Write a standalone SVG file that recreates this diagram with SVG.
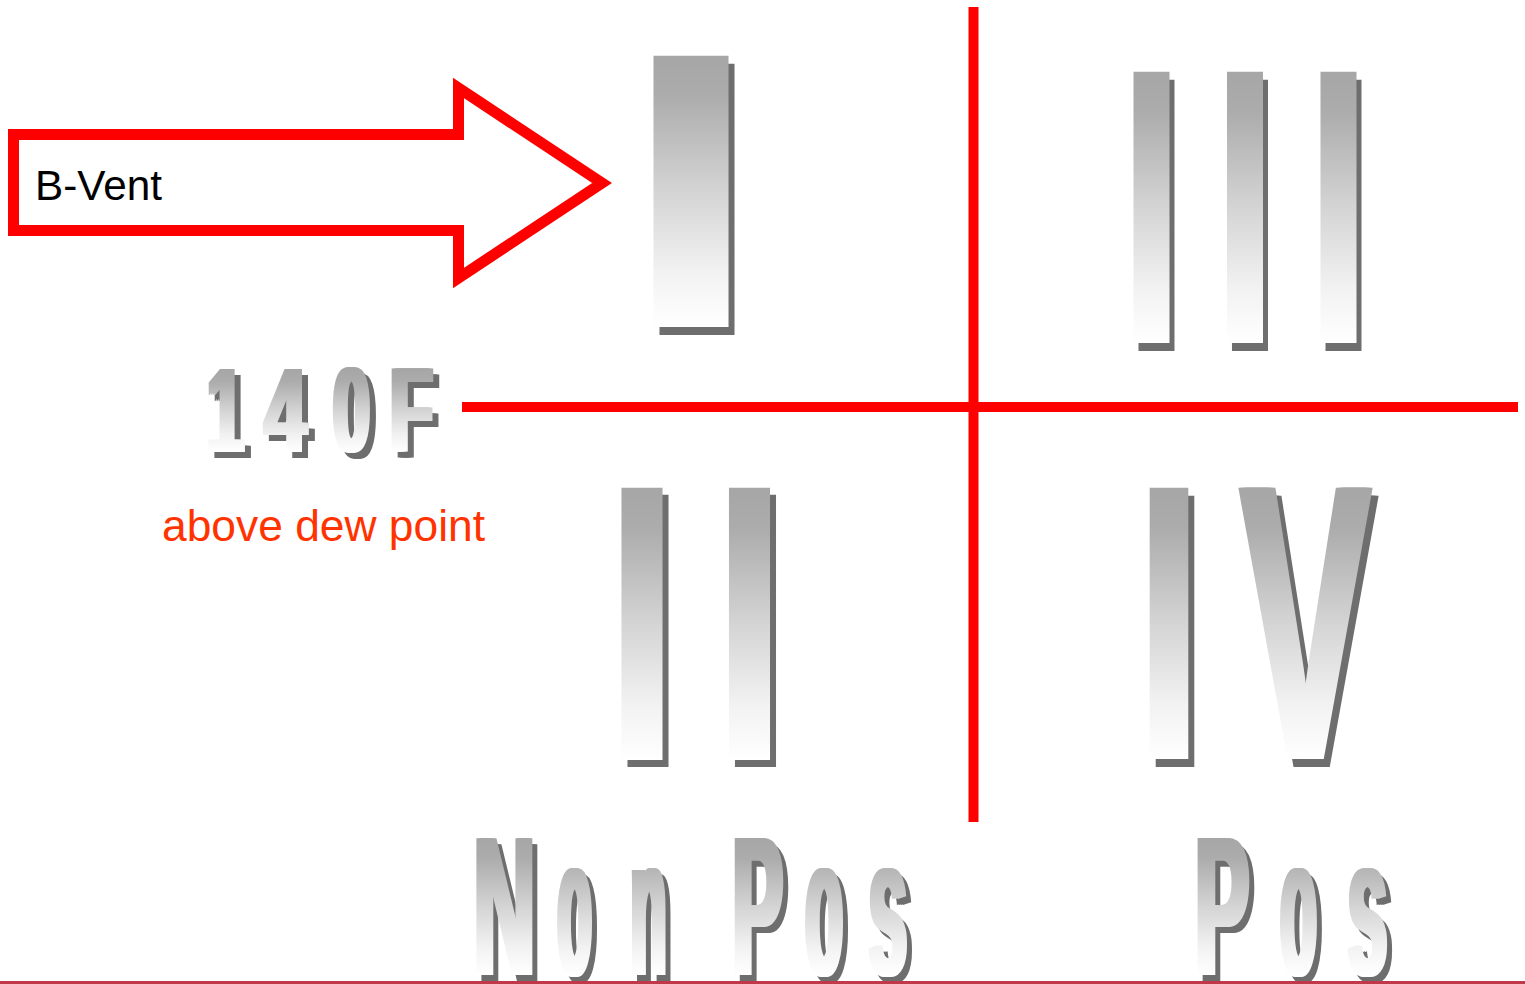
<svg xmlns="http://www.w3.org/2000/svg" xmlns:xlink="http://www.w3.org/1999/xlink" width="1525" height="984" viewBox="0 0 1525 984">
  <defs>
    <linearGradient id="metal" gradientUnits="userSpaceOnUse" x1="0" y1="-69" x2="0" y2="0">
      <stop offset="0" stop-color="#a6a6a6"/>
      <stop offset="0.15" stop-color="#acacac"/>
      <stop offset="0.5" stop-color="#d4d4d4"/>
      <stop offset="0.8" stop-color="#f2f2f2"/>
      <stop offset="1" stop-color="#ffffff"/>
    </linearGradient>
    <style>
      .g { font-family: "Liberation Sans", Arial, sans-serif; font-weight: bold; font-size: 100px; text-anchor: middle; }
      .face { fill: url(#metal); }
      .sh { fill: #6e6e6e; }
      .axis { stroke: #ff0000; stroke-width: 10; fill: none; }
      .lbl { font-family: "Liberation Sans", Arial, sans-serif; }
    </style>
  </defs>
  <rect x="0" y="0" width="1525" height="984" fill="#ffffff"/>

  <g id="axes">
    <line class="axis" x1="973.5" y1="7" x2="973.5" y2="822"/>
    <line class="axis" x1="462" y1="407" x2="1518" y2="407"/>
  </g>

  <g id="bvent-arrow">
    <polygon points="13.5,134.5 458.5,134.5 458.5,88 602,183 458.5,278 458.5,230.5 13.5,230.5" fill="#ffffff" stroke="#ff0000" stroke-width="11" stroke-miterlimit="10"/>
    <text class="lbl" x="35" y="200" font-size="42" fill="#000000" textLength="127" lengthAdjust="spacingAndGlyphs">B-Vent</text>
  </g>

  <g id="label-140F">
    <use xlink:href="#t140" class="sh" transform="translate(6,6)"/>
    <use xlink:href="#t140" class="sh" transform="translate(8,6)"/>
    <use xlink:href="#t140" class="sh" transform="translate(10,6)"/>
    <use xlink:href="#t140" class="sh" transform="translate(12,6)"/>
    <use xlink:href="#t140" class="face" x="2"/>
    <use xlink:href="#t140" class="face" x="4"/>
    <use xlink:href="#t140" class="face" x="6"/>
    <g class="face">
      <g id="t140">
        <text class="g" transform="translate(222.4,452) scale(0.657,1.2)">1</text>
        <text class="g" transform="translate(282.5,452) scale(0.746,1.2)">4</text>
        <text class="g" transform="translate(348.5,452) scale(0.654,1.2)">0</text>
        <text class="g" transform="translate(408.3,452) scale(0.701,1.2)">F</text>
      </g>
    </g>
  </g>

  <g id="label-dew">
    <text class="lbl" x="162" y="541" font-size="44" fill="#ff3300" textLength="323" lengthAdjust="spacingAndGlyphs">above dew point</text>
  </g>

  <g id="quadrant-I">
    <g class="sh" transform="translate(6,8)"><use xlink:href="#q1-a"/></g>
    <g class="face">
      <text id="q1-a" class="g" transform="translate(691,327) scale(5.21,3.942)">I</text>
    </g>
  </g>

  <g id="quadrant-III">
    <g class="sh" transform="translate(5,8)"><use xlink:href="#q3-a"/><use xlink:href="#q3-b"/><use xlink:href="#q3-c"/></g>
    <g class="face">
      <text id="q3-a" class="g" transform="translate(1151.5,343) scale(2.5,3.942)">I</text>
      <text id="q3-b" class="g" transform="translate(1245,343) scale(2.5,3.942)">I</text>
      <text id="q3-c" class="g" transform="translate(1338.5,343) scale(2.5,3.942)">I</text>
    </g>
  </g>

  <g id="quadrant-II">
    <g class="sh" transform="translate(6,7)"><use xlink:href="#q2-a"/><use xlink:href="#q2-b"/></g>
    <g class="face">
      <text id="q2-a" class="g" transform="translate(642,760) scale(2.85,3.957)">I</text>
      <text id="q2-b" class="g" transform="translate(749.5,760) scale(2.85,3.957)">I</text>
    </g>
  </g>

  <g id="quadrant-IV">
    <g class="sh" transform="translate(6,8)">
      <use xlink:href="#q4-a"/>
      <use xlink:href="#q4-b"/><use xlink:href="#q4-b" x="2"/><use xlink:href="#q4-b" x="4"/><use xlink:href="#q4-b" x="6"/><use xlink:href="#q4-b" x="8"/>
    </g>
    <g class="face">
      <use xlink:href="#q4-b" x="2"/><use xlink:href="#q4-b" x="4"/><use xlink:href="#q4-b" x="6"/><use xlink:href="#q4-b" x="8"/>
      <text id="q4-a" class="g" transform="translate(1169,759) scale(2.68,3.942)">I</text>
      <text id="q4-b" class="g" transform="translate(1301.5,759) scale(1.933,3.942)">V</text>
    </g>
  </g>

  <g id="label-nonpos">
    <use xlink:href="#np" class="sh" transform="translate(5,6)"/>
    <use xlink:href="#np" class="sh" transform="translate(7,6)"/>
    <use xlink:href="#np" class="sh" transform="translate(9,6)"/>
    <use xlink:href="#np" class="sh" transform="translate(11,6)"/>
    <use xlink:href="#np" class="face" x="2"/>
    <use xlink:href="#np" class="face" x="4"/>
    <use xlink:href="#np" class="face" x="6"/>
    <g class="face">
      <g id="np">
        <text class="g" transform="translate(501.5,975) scale(0.849,1.99)">N</text>
        <text class="g" transform="translate(571.5,975) scale(0.543,1.99)">o</text>
        <text class="g" transform="translate(645.5,975) scale(0.574,1.99)">n</text>
        <text class="g" transform="translate(754.7,975) scale(0.751,1.99)">P</text>
        <text class="g" transform="translate(821,975) scale(0.60,1.99)">o</text>
        <text class="g" transform="translate(885,975) scale(0.68,1.99)">s</text>
      </g>
    </g>
  </g>

  <g id="label-pos">
    <use xlink:href="#ps" class="sh" transform="translate(5,6)"/>
    <use xlink:href="#ps" class="sh" transform="translate(7,6)"/>
    <use xlink:href="#ps" class="sh" transform="translate(9,6)"/>
    <use xlink:href="#ps" class="sh" transform="translate(11,6)"/>
    <use xlink:href="#ps" class="face" x="2"/>
    <use xlink:href="#ps" class="face" x="4"/>
    <use xlink:href="#ps" class="face" x="6"/>
    <g class="face">
      <g id="ps">
        <text class="g" transform="translate(1219.1,975) scale(0.806,1.99)">P</text>
        <text class="g" transform="translate(1295.5,975) scale(0.58,1.99)">o</text>
        <text class="g" transform="translate(1364.5,975) scale(0.70,1.99)">s</text>
      </g>
    </g>
  </g>

  <line id="bottom-rule" x1="0" y1="982.5" x2="1525" y2="982.5" stroke="#c0394b" stroke-width="3"/>
</svg>
